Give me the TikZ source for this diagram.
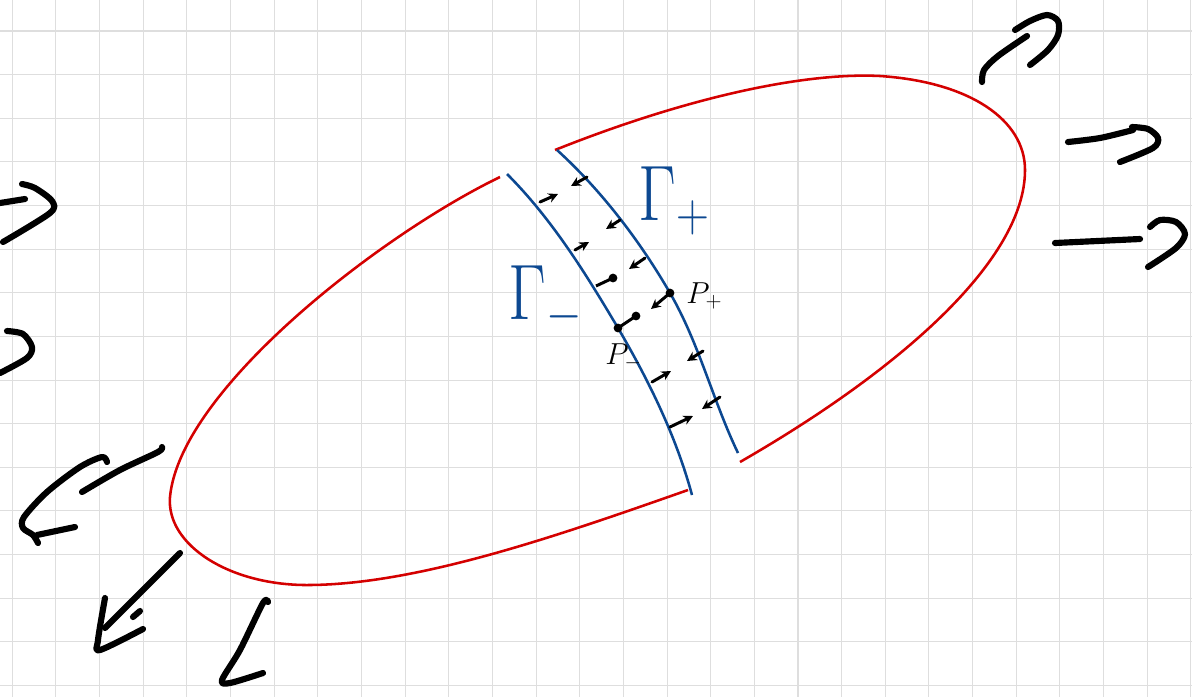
\documentclass[tikz,border=0pt]{standalone}
\usepackage{tikz}
\usetikzlibrary{arrows.meta}
\definecolor{rimred}{RGB}{212,0,0}
\definecolor{cutblue}{RGB}{12,72,145}

\begin{document}
\begin{tikzpicture}[x=0.02cm, y=-0.02cm,
  gridline/.style={draw=black!13,line width=0.6pt},
  rim/.style={draw=rimred,line width=1.45pt},
  cut/.style={draw=cutblue,line width=1.45pt},
  flux/.style={line width=1.7pt,line cap=round,-{Stealth[length=5.5pt,width=5.5pt]}},
  hand/.style={line width=3.5pt,line cap=round,line join=round},
  gamlbl/.style={text=cutblue,inner sep=0pt,anchor=base west,xscale=1.5,yscale=1.8,font=\Huge},
  plbl/.style={inner sep=0pt,anchor=base west,font=\LARGE},
  dot/.style={circle,fill,inner sep=0pt,minimum size=5pt}
]
\useasboundingbox (0,0) rectangle (1192,697);
\fill[white] (0,0) rectangle (1192,697);

% squared paper
\foreach \i in {0,...,27}
  \draw[gridline] ({12.3+43.65*\i},0) -- ({12.3+43.65*\i},697);
\foreach \j in {0,...,15}
  \draw[gridline] (0,{31+43.63*\j}) -- (1192,{31+43.63*\j});

% the body, cut in two
\draw[rim] (500,177) .. controls (380,235) and (180,390) .. (170,497)
  .. controls (166,545) and (230,586) .. (310,585)
  .. controls (420,584) and (560,535) .. (688,490);
\draw[rim] (555,150) .. controls (680,100) and (800,72) .. (880,76)
  .. controls (970,82) and (1025,120) .. (1025,170)
  .. controls (1025,260) and (900,370) .. (740,462);

% the two faces
\coordinate (pminus) at (618,328);
\coordinate (pplus) at (670,293);
\draw[cut] (507,174) .. controls (552,219) and (586,274) .. (pminus)
  .. controls (649,381) and (676,436) .. (692,495);
\draw[cut] (557,150) .. controls (601,190) and (640,241) .. (pplus)
  .. controls (699,343) and (713,401) .. (738,453);

% forces across the cut
\draw[flux] (540,202) -- (558,194);
\draw[flux] (587,177) -- (571,186);
\draw[flux] (575,250) -- (589,242);
\draw[flux] (620,220) -- (606,229);
\draw[line width=1.7pt] (596,286) -- (613,278) node[dot] {};
\draw[flux] (645,258) -- (629,269);
\draw[flux] (pplus) node[dot] {} -- (651,309);
\draw[line width=1.7pt] (pminus) node[dot] {} -- (636,316) node[dot] {};
\draw[flux] (703,351) -- (687,361);
\draw[flux] (652,382) -- (671,371);
\draw[flux] (720,397) -- (702,409);
\draw[flux] (670,427) -- (693,416);

% labels
\node[gamlbl] (gplus) at (638,220) {$\Gamma_{\scriptscriptstyle +}$};
\node[gamlbl] (gminus) at (508,319) {$\Gamma_{\scriptscriptstyle -}$};
\node[plbl] (lplus) at (686,303) {$P_{+}$};
\node[plbl] (lminus) at (605,364) {$P_{-}$};

% loads, right
\draw[hand] plot[smooth] coordinates {(982,82) (984,70) (998,56) (1027,36)};
\draw[hand] plot[smooth] coordinates {(1015,30) (1030,21) (1047,15) (1058,21) (1058,35) (1048,50) (1030,65)};
\draw[hand] plot[smooth] coordinates {(1068,142) (1100,138) (1133,130)};
\draw[hand] plot[smooth] coordinates {(1132,127) (1148,129) (1158,138) (1153,148) (1120,162)};
\draw[hand] (1055,243) -- (1140,239);
\draw[hand] plot[smooth] coordinates {(1150,227) (1160,220) (1176,222) (1185,234) (1176,248) (1148,267)};

% loads, left
\draw[hand] (0,203) -- (25,199);
\draw[hand] plot[smooth] coordinates {(22,184) (35,188) (52,201) (50,213) (3,242)};
\draw[hand] plot[smooth] coordinates {(7,331) (23,334) (32,347) (27,358) (0,373)};
\draw[hand] plot[smooth] coordinates {(107,462) (102,457) (80,467) (47,492) (24,517) (23,528) (33,535) (38,543)};
\draw[hand] (37,535) -- (75,527);
\draw[hand] plot[smooth] coordinates {(82,492) (120,470) (158,452) (162,447)};
\draw[hand] (180,553) -- (105,628);
\draw[hand] plot[smooth] coordinates {(105,598) (98,640) (100,650) (143,629)};
\draw[hand] (133,617) -- (140,611);
\draw[hand] plot[smooth] coordinates {(268,602) (263,603) (240,650) (222,680) (230,683) (263,673)};
\end{tikzpicture}
\end{document}
